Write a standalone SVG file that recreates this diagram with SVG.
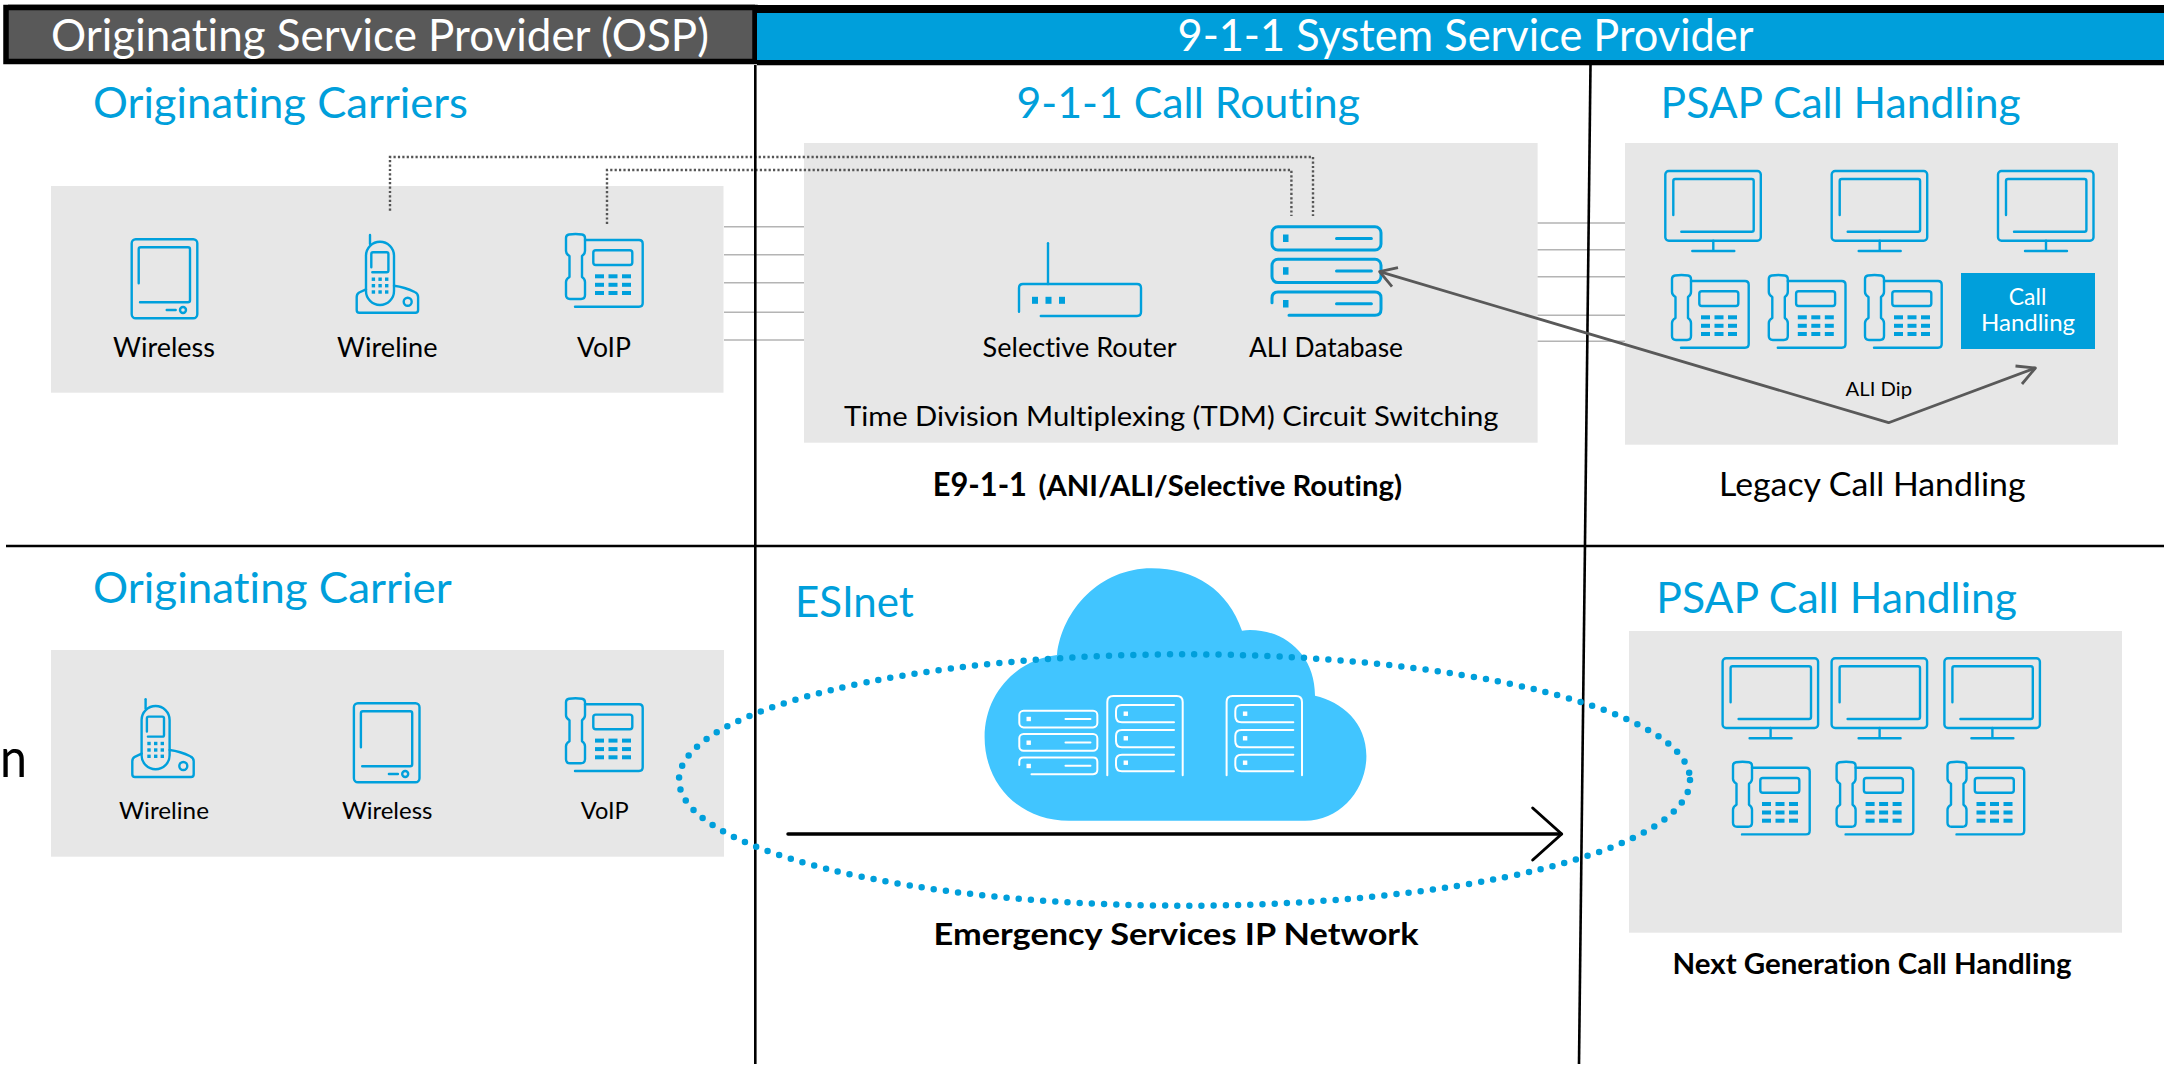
<svg xmlns="http://www.w3.org/2000/svg" xmlns:xlink="http://www.w3.org/1999/xlink" width="2164" height="1070" viewBox="0 0 2164 1070">
<style>
text{font-family:Lato,"Liberation Sans",sans-serif;fill:#000;font-variant-ligatures:none}
.title{font-size:42px;fill:#009FDB}
.head{font-size:44px;fill:#fff}
.lab{font-size:26px}
.lab2{font-size:23px}
.b{font-weight:700}
.panel{fill:#E7E7E7}
.ic{fill:none;stroke:#00A0DC;stroke-width:2.4;stroke-linecap:round;stroke-linejoin:round}
.ick{fill:#00A0DC}
.wh{fill:none;stroke:#fff;stroke-width:2;stroke-linecap:round;stroke-linejoin:round}
.whk{fill:#fff}
.wire{stroke:#B4B4B4;stroke-width:1.6;fill:none}
.dot{stroke:#555;stroke-width:2.4;stroke-dasharray:2.2 2.2;fill:none}
.dip{stroke:#595959;stroke-width:2.8;fill:none;stroke-linejoin:round}
.rule{stroke:#000;stroke-width:2.6;fill:none}
</style>
<defs>
<g id="tablet" class="ic">
<rect x="0" y="0" width="65.6" height="79" rx="4"/>
<path d="M7 44V10q0-2 2-2H56.300q2 0 2 2V61q0 2-2 2H8.300"/>
<path d="M35 70.700H44"/>
<circle cx="51.300" cy="70.700" r="3"/>
</g>
<g id="cordless" class="ic">
<path d="M13.300 0V9"/>
<rect x="9.300" y="6.700" width="28" height="63.300" rx="14"/>
<path d="M14.600 32.300V19q0-1.700 1.700-1.700H30q1.700 0 1.700 1.700V35.600q0 1.700-1.700 1.700H15.600"/>
<path d="M9.300 54.300L2.500 57.500Q0 59 0 62V75q0 2.700 2.700 2.700H58.700q2.700 0 2.700-2.700V62Q61.400 58.500 58 57Q48 52 37.300 50.700"/>
<circle cx="51" cy="66.700" r="4"/>
<g class="ick" stroke="none" style="stroke:none">
<rect x="15" y="42.500" width="3.400" height="3.400"/><rect x="21.700" y="42.500" width="3.400" height="3.400"/><rect x="28.300" y="42.500" width="3.400" height="3.400"/>
<rect x="15" y="49" width="3.400" height="3.400"/><rect x="21.700" y="49" width="3.400" height="3.400"/><rect x="28.300" y="49" width="3.400" height="3.400"/>
<rect x="15" y="55.300" width="3.400" height="3.400"/><rect x="21.700" y="55.300" width="3.400" height="3.400"/><rect x="28.300" y="55.300" width="3.400" height="3.400"/>
</g>
</g>
<g id="desk" class="ic">
<path d="M3 .5Q9.500-.5 16 .5Q19 1 19 4V17Q19 20 16 22V43Q19 45 19 48V61Q19 65 15 65H4Q0 65 0 61V48Q0 45 3.500 43V22Q0 20 0 17V4Q0 1 3 .5Z"/>
<path d="M19 6H73q3.700 0 3.700 3.700V69q0 3.700-3.700 3.700H9"/>
<rect x="27.300" y="16.300" width="39" height="14.700" rx="2.500"/>
<g class="ick" style="stroke:none">
<rect x="29" y="40.300" width="9" height="4"/><rect x="42.500" y="40.300" width="9" height="4"/><rect x="56" y="40.300" width="9" height="4"/>
<rect x="29" y="48.800" width="9" height="4"/><rect x="42.500" y="48.800" width="9" height="4"/><rect x="56" y="48.800" width="9" height="4"/>
<rect x="29" y="57" width="9" height="4"/><rect x="42.500" y="57" width="9" height="4"/><rect x="56" y="57" width="9" height="4"/>
</g>
</g>
<g id="monitor" class="ic">
<rect x="0" y="0" width="95.500" height="69.700" rx="3.500"/>
<path d="M8 44V10q0-2 2-2H86.400q2 0 2 2V58.700q0 2-2 2H16"/>
<path d="M48 69.700V80M27 80H69"/>
</g>
<g id="stack">
<rect x="0" y="0" width="109" height="23.300" rx="6"/>
<rect x="0" y="32.600" width="109" height="23.300" rx="6"/>
<path d="M0 76V71.300q0-6 6-6H103q6 0 6 6V82.600q0 6-6 6H17"/>
<path d="M64.500 11.700H99.400M64.500 44.300H99.400M64.500 77H99.400"/>
</g>
<g id="tower">
<path d="M0 79.600V6.300q0-6 6-6H69.400q6 0 6 6V79.600"/>
<path d="M66.700 9.300H14.700q-6 0-6 6V20.600q0 6 6 6H66.700"/>
<path d="M66.700 34.300H14.700q-6 0-6 6V45.600q0 6 6 6H66.700"/>
<path d="M66.700 59H14.700q-6 0-6 6V69.600q0 6 6 6H66.700"/>
<g class="whk" style="stroke:none"><rect x="16.300" y="15.800" width="4.400" height="4.400"/><rect x="16.300" y="40.400" width="4.400" height="4.400"/><rect x="16.300" y="64.800" width="4.400" height="4.400"/></g>
</g>
</defs>
<rect width="2164" height="1070" fill="#fff"/>

<g id="panels">
<rect class="panel" x="51" y="186" width="672.500" height="206.700"/>
<rect class="panel" x="804" y="143" width="733.600" height="299.700"/>
<rect class="panel" x="1625" y="143" width="493" height="301.700"/>
<rect class="panel" x="51" y="650" width="673" height="206.700"/>
<rect class="panel" x="1629" y="631" width="493" height="301.700"/>
</g>

<g id="header-osp">
<path d="M8 4.500H755" stroke="#BBB" stroke-width="1" fill="none"/>
<rect x="6" y="7.500" width="749" height="54" fill="#595959" stroke="#000" stroke-width="5.500"/>
<text class="head" x="51" y="51" textLength="658" lengthAdjust="spacingAndGlyphs">Originating Service Provider (OSP)</text>
</g>
<g id="header-system">
<rect x="757" y="5" width="1407" height="60" fill="#000"/>
<rect x="757" y="13" width="1407" height="47" fill="#009FDB"/>
<path d="M757 65.500H2164" stroke="#BBB" stroke-width="1" fill="none"/>
<text class="head" x="1177.500" y="51" textLength="576" lengthAdjust="spacingAndGlyphs">9-1-1 System Service Provider</text>
</g>

<g id="connectors">
<path class="wire" d="M724 226.700H804M724 254.700H804M724 282.700H804M724 312.300H804M724 340H804"/>
<path class="wire" d="M1537.600 223H1625M1537.600 249.700H1625M1537.600 276.700H1625M1537.600 315.300H1625M1537.600 341.300H1625"/>
<path class="dot" d="M390 210.700V157H1313V216"/>
<path class="dot" d="M607 224V170H1291.400V216"/>
<path class="rule" d="M755.300 65V1064"/>
<path class="rule" d="M1590.500 65L1579 1064"/>
<path class="rule" d="M6 546H2164"/>
</g>

<g id="title-carriers"><text class="title" x="93" y="118" textLength="375" lengthAdjust="spacingAndGlyphs">Originating Carriers</text></g>
<g id="title-routing"><text class="title" x="1016.500" y="118" textLength="343.500" lengthAdjust="spacingAndGlyphs">9-1-1 Call Routing</text></g>
<g id="title-psap"><text class="title" x="1660.600" y="118" textLength="360" lengthAdjust="spacingAndGlyphs">PSAP Call Handling</text></g>

<g id="wireless-top"><use href="#tablet" x="131.700" y="239.300"/><text class="lab" x="113" y="356.700" textLength="102" lengthAdjust="spacingAndGlyphs">Wireless</text></g>
<g id="wireline-top"><use href="#cordless" x="356.700" y="235"/><text class="lab" x="337" y="356.700" textLength="100.500" lengthAdjust="spacingAndGlyphs">Wireline</text></g>
<g id="voip-top"><use href="#desk" x="566" y="234"/><text class="lab" x="577" y="356.700" textLength="54" lengthAdjust="spacingAndGlyphs">VoIP</text></g>

<g id="selective-router">
<g class="ic">
<path d="M1048 243.300V284"/>
<path d="M1019 311.700V288q0-4 4-4H1137q4 0 4 4V312q0 4-4 4H1040.800"/>
</g>
<g class="ick"><rect x="1032" y="296.800" width="6" height="7"/><rect x="1045.500" y="296.800" width="6" height="7"/><rect x="1059" y="296.800" width="6" height="7"/></g>
<text class="lab" x="982.600" y="357" textLength="194" lengthAdjust="spacingAndGlyphs">Selective Router</text>
</g>
<g id="ali-database">
<use href="#stack" x="1272" y="226.700" class="ic" style="stroke-width:3"/>
<g class="ick"><rect x="1283" y="234.500" width="5.500" height="7.500"/><rect x="1283" y="267.200" width="5.500" height="7.500"/><rect x="1283" y="300" width="5.500" height="7.500"/></g>
<text class="lab" x="1249" y="357" textLength="154" lengthAdjust="spacingAndGlyphs">ALI Database</text>
</g>
<g id="tdm"><text class="lab" x="844" y="425.700" textLength="654.400" lengthAdjust="spacingAndGlyphs">Time Division Multiplexing (TDM) Circuit Switching</text></g>
<g id="e911">
<text class="b" font-size="33" x="932.700" y="495.700" textLength="94.300" lengthAdjust="spacingAndGlyphs">E9-1-1</text>
<text class="b" font-size="28" x="1038.400" y="495.700" textLength="363.600" lengthAdjust="spacingAndGlyphs">(ANI/ALI/Selective Routing)</text>
</g>

<g id="psap-legacy">
<use href="#monitor" x="1665.300" y="171"/><use href="#monitor" x="1831.700" y="171"/><use href="#monitor" x="1998" y="171"/>
<use href="#desk" x="1672" y="275"/><use href="#desk" x="1768.800" y="275"/><use href="#desk" x="1865" y="275"/>
</g>
<g id="call-handling">
<rect x="1961" y="273" width="134" height="76" fill="#009FDB"/>
<text style="fill:#fff;font-size:24px" x="2008.800" y="305" textLength="37.500" lengthAdjust="spacingAndGlyphs">Call</text>
<text style="fill:#fff;font-size:24px" x="1981" y="331" textLength="94" lengthAdjust="spacingAndGlyphs">Handling</text>
</g>
<g id="ali-dip-label"><text style="font-size:20px" x="1845.600" y="395.700" textLength="66.400" lengthAdjust="spacingAndGlyphs">ALI Dip</text></g>
<g id="legacy-label"><text style="font-size:32px" x="1719" y="495.700" textLength="306.500" lengthAdjust="spacingAndGlyphs">Legacy Call Handling</text></g>

<g id="connector-ali-dip">
<path class="dip" d="M1379.600 271.700L1888.600 422.700L2035.400 368"/>
</g>

<text style="font-size:54px" x="0" y="776.700" textLength="27" lengthAdjust="spacingAndGlyphs">n</text>

<g id="title-carrier"><text class="title" x="93" y="603.300" textLength="358.800" lengthAdjust="spacingAndGlyphs">Originating Carrier</text></g>
<g id="wireline-bottom"><use href="#cordless" x="132.300" y="699.300"/><text class="lab2" x="119" y="818.700" textLength="90" lengthAdjust="spacingAndGlyphs">Wireline</text></g>
<g id="wireless-bottom"><use href="#tablet" x="353.900" y="703.300"/><text class="lab2" x="342" y="818.700" textLength="90.400" lengthAdjust="spacingAndGlyphs">Wireless</text></g>
<g id="voip-bottom"><use href="#desk" x="566" y="698.300"/><text class="lab2" x="580.700" y="818.700" textLength="48" lengthAdjust="spacingAndGlyphs">VoIP</text></g>

<g id="esinet-cloud">
<path fill="#41C5FF" d="M1069 820.700H1305C1340 820.700 1366.400 790 1366.400 756C1366.400 722 1342 702 1315 695.700C1315 655 1285 630 1250 630Q1246 630 1242 630.700C1228 590 1195 568.300 1151.400 568.300C1100 568.300 1062 610 1057 655C1015 660 984.600 695 984.600 737C984.600 785 1020 820.700 1069 820.700Z"/>
<use href="#stack" transform="translate(1019.300 710.700) scale(.716)" class="wh" style="stroke-width:2.800"/>
<g class="whk"><rect x="1026.500" y="716.800" width="4.400" height="4.400"/><rect x="1026.500" y="740.500" width="4.400" height="4.400"/><rect x="1026.500" y="763.800" width="4.400" height="4.400"/></g>
<use href="#tower" x="1107.300" y="695.700" class="wh"/>
<use href="#tower" x="1226.600" y="695.700" class="wh"/>
</g>
<g id="esinet-ellipse">
<ellipse cx="1184.500" cy="780" rx="505.500" ry="125.700" fill="none" stroke="#009FDB" stroke-width="6.500" stroke-linecap="round" stroke-dasharray="0 12.200"/>
</g>
<g id="connector-esinet">
<path d="M788 834H1561" fill="none" stroke="#000" stroke-width="3.500" stroke-linecap="round"/>
<path d="M1532.700 808L1561.700 834L1532.700 860" fill="none" stroke="#000" stroke-width="3" stroke-linecap="round" stroke-linejoin="round"/>
</g>
<g id="title-esinet"><text class="title" x="794.900" y="617.300" textLength="119" lengthAdjust="spacingAndGlyphs">ESInet</text></g>
<g id="esinet-label"><text class="b" style="font-size:31px" x="933.600" y="945" textLength="484.900" lengthAdjust="spacingAndGlyphs">Emergency Services IP Network</text></g>

<g id="title-psap-ng"><text class="title" x="1656.300" y="613.300" textLength="360.700" lengthAdjust="spacingAndGlyphs">PSAP Call Handling</text></g>
<g id="psap-ng">
<use href="#monitor" x="1722.600" y="658.300"/><use href="#monitor" x="1831.600" y="658.300"/><use href="#monitor" x="1944.400" y="658.300"/>
<use href="#desk" x="1733" y="761.700"/><use href="#desk" x="1836.600" y="761.700"/><use href="#desk" x="1947.500" y="761.700"/>
</g>
<g id="ng-label"><text class="b" style="font-size:28px" x="1672.500" y="974.300" textLength="399.100" lengthAdjust="spacingAndGlyphs">Next Generation Call Handling</text></g>

<g id="arrowheads">
<path class="dip" d="M1398 267.700L1379.600 271.700L1392 286.700"/>
<path class="dip" d="M2015.500 366L2035.400 368L2022 384"/>
</g>
</svg>
